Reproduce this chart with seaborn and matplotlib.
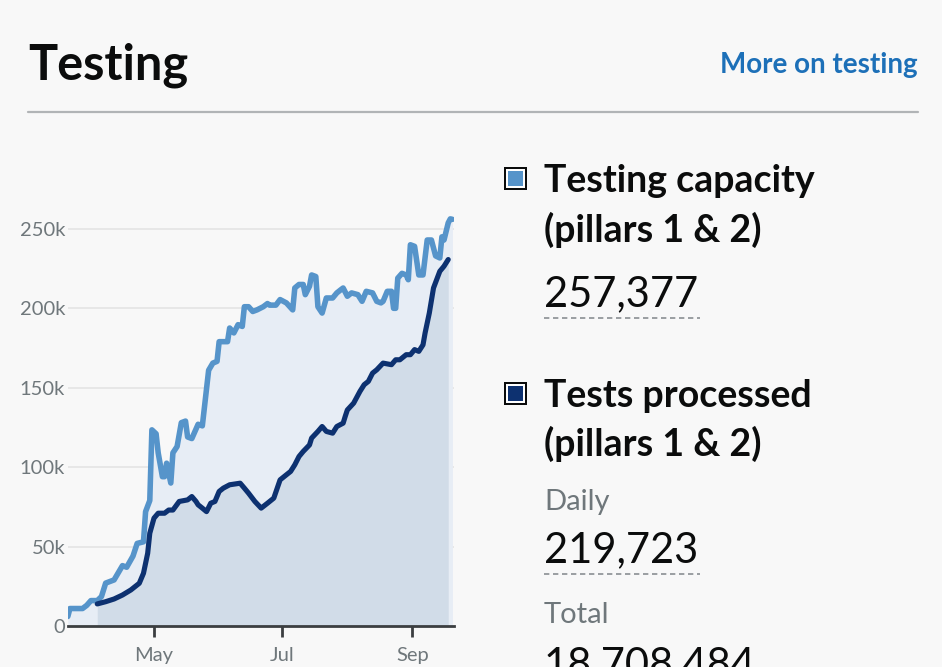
import matplotlib
matplotlib.use("Agg")
import matplotlib.pyplot as plt
import matplotlib.dates as mdates
from matplotlib.ticker import FixedLocator
from matplotlib.patches import Rectangle
from matplotlib.lines import Line2D
import seaborn as sns
import pandas as pd

# ---------------- data (values in thousands) ----------------
capacity_dates = [
    "2020-03-21", "2020-03-22", "2020-03-28", "2020-03-30", "2020-04-01", "2020-04-04",
    "2020-04-06", "2020-04-08", "2020-04-12", "2020-04-16", "2020-04-18", "2020-04-21",
    "2020-04-23", "2020-04-26", "2020-04-27", "2020-04-29", "2020-04-30", "2020-05-02",
    "2020-05-03", "2020-05-05", "2020-05-06", "2020-05-07", "2020-05-09", "2020-05-10",
    "2020-05-12", "2020-05-14", "2020-05-16", "2020-05-17", "2020-05-19", "2020-05-22",
    "2020-05-24", "2020-05-27", "2020-05-29", "2020-05-31", "2020-06-01", "2020-06-05",
    "2020-06-06", "2020-06-08", "2020-06-10", "2020-06-12", "2020-06-13", "2020-06-15",
    "2020-06-17", "2020-06-19", "2020-06-22", "2020-06-24", "2020-06-25", "2020-06-28",
    "2020-06-30", "2020-07-03", "2020-07-06", "2020-07-07", "2020-07-09", "2020-07-11",
    "2020-07-12", "2020-07-14", "2020-07-15", "2020-07-17", "2020-07-18", "2020-07-20",
    "2020-07-22", "2020-07-25", "2020-07-27", "2020-07-29", "2020-07-30", "2020-08-01",
    "2020-08-03", "2020-08-06", "2020-08-08", "2020-08-10", "2020-08-13", "2020-08-15",
    "2020-08-17", "2020-08-18", "2020-08-20", "2020-08-22", "2020-08-23", "2020-08-24",
    "2020-08-25", "2020-08-27", "2020-08-29", "2020-08-30", "2020-08-31", "2020-09-02",
    "2020-09-04", "2020-09-06", "2020-09-08", "2020-09-10", "2020-09-12", "2020-09-14",
    "2020-09-15", "2020-09-16", "2020-09-18", "2020-09-19", "2020-09-20",
]
capacity_values = [
    6, 11, 11, 13, 16, 16,
    18.5, 27, 29, 38, 37, 44,
    52, 53, 72, 79, 123.5, 121,
    109, 94, 94, 102.5, 90, 109,
    113, 128, 129, 119, 118, 127,
    126, 161, 165.5, 166.6, 179, 179,
    187.6, 184.5, 189.7, 188.6, 201, 201,
    198, 199, 201, 203, 202, 202,
    205.5, 203.4, 199, 212.8, 215, 215,
    208.6, 213.9, 221, 220, 201, 197,
    206.5, 206.5, 209.7, 211.8, 212.8, 207.6,
    209.7, 208.6, 204.4, 210.7, 209.7, 204.4,
    203.4, 204.4, 210.7, 210.7, 200, 200,
    219, 222, 221, 218, 240, 239,
    221, 221, 243, 243, 233, 231.7,
    245, 243, 253.8, 256.3, 256,
]

processed_dates = [
    "2020-04-04", "2020-04-08", "2020-04-12", "2020-04-16", "2020-04-20", "2020-04-24",
    "2020-04-26", "2020-04-28", "2020-04-29", "2020-05-01", "2020-05-03", "2020-05-06",
    "2020-05-08", "2020-05-10", "2020-05-13", "2020-05-17", "2020-05-19", "2020-05-21",
    "2020-05-22", "2020-05-24", "2020-05-26", "2020-05-28", "2020-05-30", "2020-06-01",
    "2020-06-03", "2020-06-06", "2020-06-09", "2020-06-11", "2020-06-13", "2020-06-15",
    "2020-06-18", "2020-06-21", "2020-06-24", "2020-06-27", "2020-06-30", "2020-07-03",
    "2020-07-05", "2020-07-07", "2020-07-09", "2020-07-11", "2020-07-14", "2020-07-15",
    "2020-07-18", "2020-07-20", "2020-07-22", "2020-07-25", "2020-07-27", "2020-07-30",
    "2020-07-31", "2020-08-01", "2020-08-04", "2020-08-07", "2020-08-09", "2020-08-11",
    "2020-08-13", "2020-08-15", "2020-08-18", "2020-08-22", "2020-08-24", "2020-08-26",
    "2020-08-29", "2020-08-31", "2020-09-02", "2020-09-04", "2020-09-06", "2020-09-07",
    "2020-09-09", "2020-09-11", "2020-09-14", "2020-09-16", "2020-09-18",
]
processed_values = [
    13.9, 15.3, 17, 19.5, 22.7, 26.9,
    33.2, 45.8, 58.4, 67.9, 71, 71,
    73, 73, 78.4, 79.4, 81.5, 78.4,
    76.3, 74.2, 72, 77.3, 78.4, 84.7,
    86.8, 88.9, 89.5, 89.9, 86.8, 83.6,
    78.4, 74.2, 77.3, 80.5, 92, 95.2,
    97.3, 101.5, 106.7, 109.9, 114, 118.3,
    122.5, 125.6, 122.5, 121.4, 125.6, 127.7,
    132, 136, 140.3, 147.7, 151.9, 154,
    159.2, 161.3, 165.5, 164.5, 167.6, 167.6,
    170.8, 170.8, 174, 172.9, 177, 184.5,
    197, 212.8, 223.3, 226.5, 230.7,
]

y_ticks = [0, 50, 100, 150, 200, 250]
y_tick_labels = ["0", "50k", "100k", "150k", "200k", "250k"]
x_tick_dates = ["2020-05-01", "2020-07-01", "2020-09-01"]
x_tick_labels = ["May", "Jul", "Sep"]

title = "Testing"
link_text = "More on testing"
series_names = ["Testing capacity\n(pillars 1 & 2)", "Tests processed\n(pillars 1 & 2)"]
capacity_latest = "257,377"
processed_daily = "219,723"
processed_total = "18,708,484"

# ---------------- style ----------------
BG = "#f8f8f8"
C_CAP = "#5694ca"
C_PROC = "#0d3170"
FILL_CAP = "#e7edf5"
FILL_PROC = "#d1dce8"
GREY = "#6f777b"
INK = "#0b0c0c"

W, H = 942, 667
sns.set_theme(style="white")
plt.rcParams["font.family"] = ["Lato", "DejaVu Sans"]

fig = plt.figure(figsize=(W / 100, H / 100), dpi=100, facecolor=BG)


def fx(px):
    return px / W


def fy(py):
    return 1 - py / H


# ---------------- chart ----------------
ax = fig.add_axes([fx(68), fy(626), fx(454) - fx(68), fy(213) - fy(626)])
ax.set_facecolor(BG)

cap = pd.DataFrame({"date": pd.to_datetime(capacity_dates), "value": capacity_values})
proc = pd.DataFrame({"date": pd.to_datetime(processed_dates), "value": processed_values})

ax.fill_between(cap["date"], 0, cap["value"], color=FILL_CAP, lw=0, zorder=1)
ax.fill_between(proc["date"], 0, proc["value"], color=FILL_PROC, lw=0, zorder=2)

for yt in y_ticks[1:]:
    ax.axhline(yt, color="#e4e4e4", lw=1.2, zorder=0.5)

sns.lineplot(data=cap, x="date", y="value", ax=ax, color=C_CAP, lw=4.0, zorder=3)
sns.lineplot(data=proc, x="date", y="value", ax=ax, color=C_PROC, lw=3.7, zorder=4)

ax.set_xlim(pd.Timestamp("2020-03-21 02:00"), pd.Timestamp("2020-09-20 18:00"))
ax.set_ylim(0, 260)

ax.yaxis.set_major_locator(FixedLocator(y_ticks))
ax.set_yticklabels(y_tick_labels)
ax.xaxis.set_major_locator(FixedLocator([mdates.date2num(pd.Timestamp(d)) for d in x_tick_dates]))
ax.set_xticklabels(x_tick_labels)

ax.tick_params(axis="y", length=0, pad=2, labelsize=14.5, labelcolor=GREY)
ax.tick_params(axis="x", length=8, width=2, color="#3b3e40", direction="out",
               pad=7, labelsize=14.5, labelcolor=GREY, bottom=True)
ax.set_xlabel("")
ax.set_ylabel("")
for s in ["top", "right", "left"]:
    ax.spines[s].set_visible(False)
ax.spines["bottom"].set_color("#3b3e40")
ax.spines["bottom"].set_linewidth(2)
ax.grid(False)

# ---------------- header ----------------
fig.text(fx(28), fy(80), title, fontsize=35, fontweight="bold", color=INK,
         ha="left", va="baseline")
fig.text(fx(918), fy(73), link_text, fontsize=20, fontweight="bold", color="#1d70b8",
         ha="right", va="baseline")
fig.add_artist(Line2D([fx(28), fx(918)], [fy(112), fy(112)], color="#b1b4b6", lw=1.6))


# ---------------- legend / figures ----------------
def key_box(x0, y0, color, size=23):
    fig.add_artist(Rectangle((fx(x0), fy(y0 + size)), size / W, size / H,
                             facecolor=INK, edgecolor="none"))
    fig.add_artist(Rectangle((fx(x0 + 2), fy(y0 + size - 2)), (size - 4) / W, (size - 4) / H,
                             facecolor="white", edgecolor="none"))
    fig.add_artist(Rectangle((fx(x0 + 4), fy(y0 + size - 4)), (size - 8) / W, (size - 8) / H,
                             facecolor=color, edgecolor="none"))


def dashed(y, x0=544, x1=700):
    fig.add_artist(Line2D([fx(x0), fx(x1)], [fy(y), fy(y)], color="#8a8f92", lw=1.2,
                          linestyle=(0, (3.2, 2.2))))


TX = 544
HEAD = dict(fontsize=27, fontweight="bold", color=INK, va="baseline")
key_box(504, 167, C_CAP)
name1 = series_names[0].split("\n")
fig.text(fx(TX), fy(192), name1[0], **HEAD)
fig.text(fx(TX), fy(242), name1[1], **HEAD)
fig.text(fx(TX), fy(306), capacity_latest, fontsize=30, color=INK, va="baseline")
dashed(318)

key_box(504, 382, C_PROC)
name2 = series_names[1].split("\n")
fig.text(fx(TX), fy(407), name2[0], **HEAD)
fig.text(fx(TX), fy(456), name2[1], **HEAD)
fig.text(fx(TX), fy(510), "Daily", fontsize=21, color=GREY, va="baseline")
fig.text(fx(TX), fy(562), processed_daily, fontsize=30, color=INK, va="baseline")
dashed(574)
fig.text(fx(TX), fy(623), "Total", fontsize=21, color=GREY, va="baseline")
fig.text(fx(TX), fy(677), processed_total, fontsize=30, color=INK, va="baseline")

fig.savefig("out.png", dpi=100, facecolor=BG)
